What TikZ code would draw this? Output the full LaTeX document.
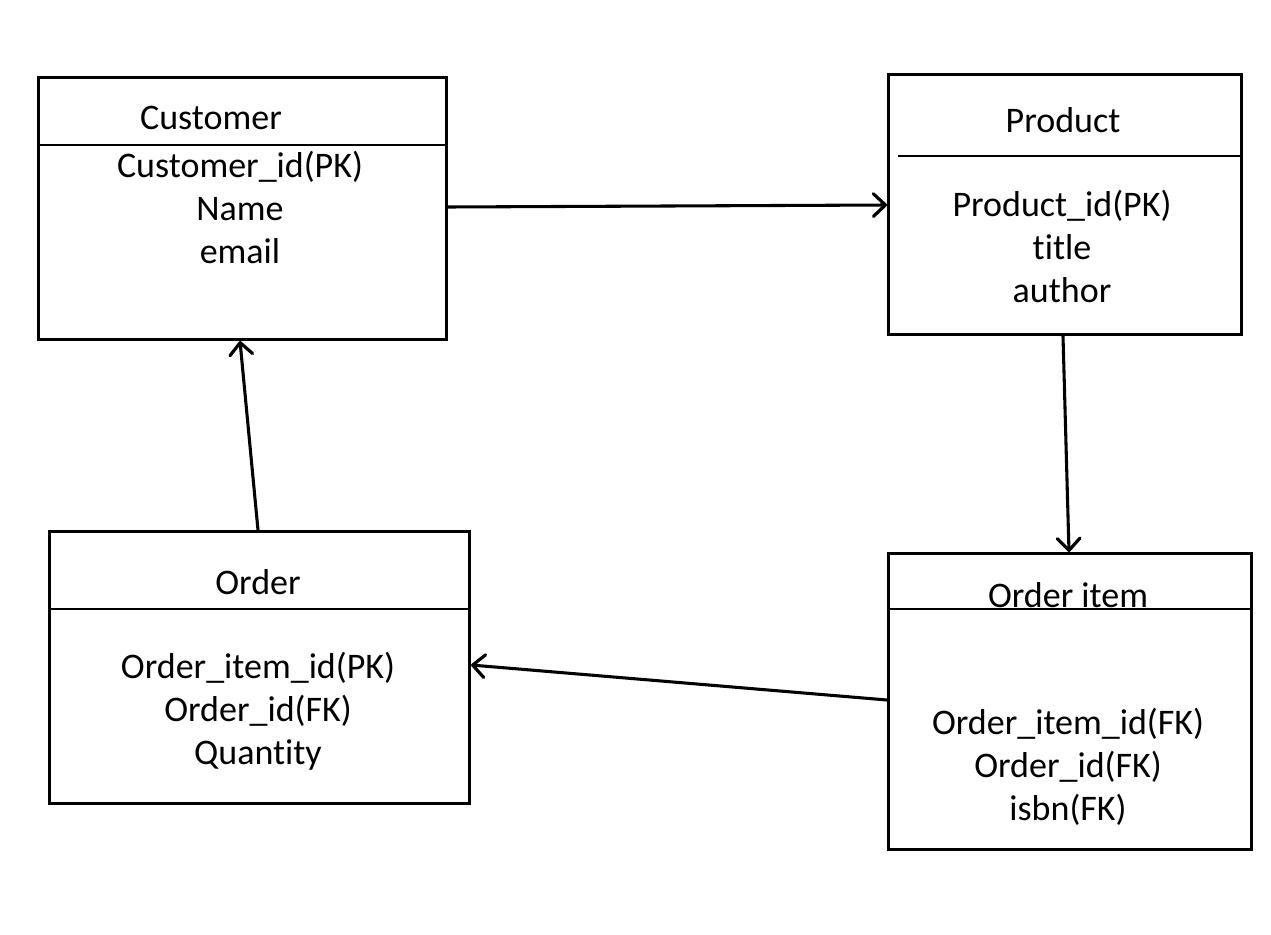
\documentclass[tikz,border=0pt]{standalone}
\usepackage{fontspec}
\setmainfont{Carlito}[Ligatures=NoCommon]
\usetikzlibrary{arrows.meta}
\begin{document}
\begin{tikzpicture}[x=0.75pt,y=-0.75pt,
  entity/.style={draw=black,line width=2.3pt},
  sep/.style={draw=black,line width=1.2pt},
  txt/.style={inner sep=0pt,align=center,font=\fontsize{27}{32.3}\selectfont},
  rel/.style={draw=black,line width=2.3pt,line cap=round,
    -{Straight Barb[length=9pt,width=17pt,line width=2.4pt,line cap=round,line join=round]}}]
\useasboundingbox (0,0) rectangle (1271,935);
% Customer
\node[entity,minimum width=408*0.75pt,minimum height=262*0.75pt,anchor=north west,inner sep=0pt] (cust) at (37,76) {};
\draw[sep] (37,145) coordinate (cs1) -- (445,145) coordinate (cs2);
\node[txt] (custT) at (211,118) {Customer};
\node[txt,anchor=north] (custA) at (240,151) {Customer\_id(PK)\\Name\\email};
% Product
\node[entity,minimum width=353*0.75pt,minimum height=260*0.75pt,anchor=north west,inner sep=0pt] (prod) at (887,73) {};
\draw[sep] (898,156) coordinate (ps1) -- (1240,156) coordinate (ps2);
\node[txt] (prodT) at (1063,120) {Product};
\node[txt,anchor=north] (prodA) at (1062,190) {Product\_id(PK)\\title\\author};
% Order
\node[entity,minimum width=420*0.75pt,minimum height=272*0.75pt,anchor=north west,inner sep=0pt] (ord) at (48,530) {};
\draw[sep] (48,609) coordinate (os1) -- (468,609) coordinate (os2);
\node[txt] (ordT) at (258,582) {Order};
\node[txt,anchor=north] (ordA) at (258,652) {Order\_item\_id(PK)\\Order\_id(FK)\\Quantity};
% Order item
\node[entity,minimum width=363*0.75pt,minimum height=296*0.75pt,anchor=north west,inner sep=0pt] (item) at (887,552) {};
\draw[sep] (887,609) coordinate (is1) -- (1250,609) coordinate (is2);
\node[txt] (itemT) at (1068,595) {Order item};
\node[txt,anchor=north] (itemA) at (1068,708) {Order\_item\_id(FK)\\Order\_id(FK)\\isbn(FK)};
% Relations
\draw[rel] (cust.east |- 0,207) -- (prod.west |- 0,205);
\draw[rel] (prod.south -| 1063,0) -- (item.north -| 1069,0);
\draw[rel] (ord.north -| 258,0) -- (cust.south -| 240,0);
\draw[rel] (item.west |- 0,700) -- (ord.east |- 0,665);
\end{tikzpicture}
\end{document}
